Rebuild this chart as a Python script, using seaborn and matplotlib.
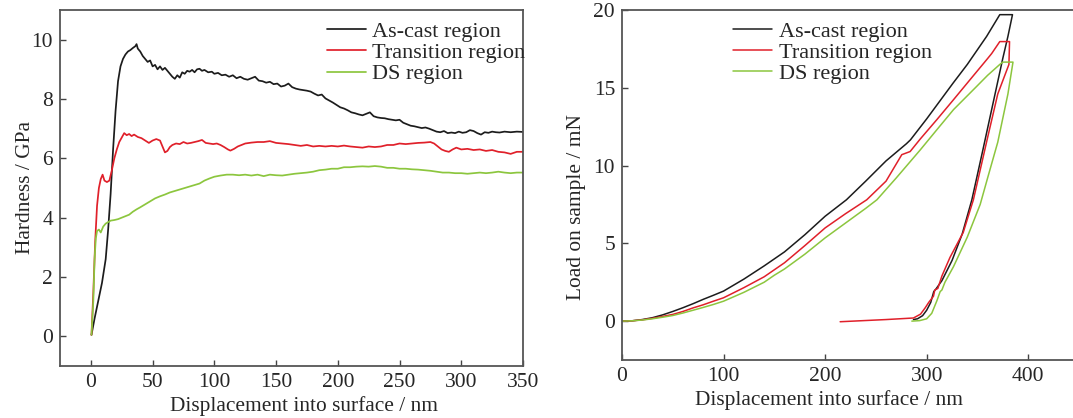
import numpy as np
import pandas as pd
import matplotlib
matplotlib.use("Agg")
import matplotlib.pyplot as plt
import seaborn as sns

# ---- hardness vs displacement (left panel) ----
ascast_hx = [0.5, 3, 6, 9, 12, 14, 16, 18, 20, 22, 24, 26, 28, 30, 32, 34, 36, 37, 38, 40,
             42, 44, 46, 48, 50, 52, 54, 56, 58, 60, 62, 64, 66, 68, 70, 72, 74, 76, 78, 80,
             82, 84, 86, 88, 90, 92, 95, 98, 100, 103, 106, 109, 112, 115, 118, 121, 124, 127,
             130, 133, 136, 139, 142, 145, 148, 151, 154, 157, 160, 163, 166, 169, 172, 175,
             178, 181, 184, 187, 190, 193, 196, 199, 202, 205, 208, 211, 214, 217, 220, 223,
             226, 229, 232, 235, 238, 241, 244, 247, 250, 253, 256, 259, 262, 265, 268, 271,
             274, 277, 280, 283, 286, 289, 292, 295, 298, 301, 304, 307, 310, 313, 316, 319,
             322, 325, 328, 331, 335, 340, 345, 350]
ascast_hy = [0.05, 0.6, 1.2, 1.8, 2.6, 3.6, 4.8, 6.3, 7.6, 8.6, 9.1, 9.35, 9.5, 9.6, 9.65,
             9.72, 9.78, 9.85, 9.7, 9.6, 9.45, 9.35, 9.25, 9.3, 9.1, 9.15, 9.0, 9.1, 8.98, 9.05,
             8.95, 8.85, 8.75, 8.68, 8.8, 8.72, 8.9, 8.85, 8.95, 8.92, 8.98, 8.9, 9.0, 9.02, 8.95,
             8.98, 8.9, 8.92, 8.85, 8.88, 8.8, 8.82, 8.75, 8.8, 8.7, 8.75, 8.68, 8.65, 8.7, 8.75,
             8.62, 8.6, 8.55, 8.58, 8.5, 8.52, 8.42, 8.45, 8.52, 8.4, 8.35, 8.32, 8.3, 8.28, 8.25,
             8.18, 8.12, 8.15, 8.02, 7.95, 7.88, 7.8, 7.72, 7.68, 7.62, 7.55, 7.52, 7.48, 7.45,
             7.5, 7.55, 7.42, 7.38, 7.36, 7.35, 7.32, 7.3, 7.28, 7.3, 7.2, 7.15, 7.1, 7.08, 7.05,
             7.02, 7.04, 7.0, 6.95, 6.9, 6.88, 6.92, 6.85, 6.87, 6.85, 6.9, 6.86, 6.88, 6.95,
             6.92, 6.85, 6.8, 6.88, 6.86, 6.9, 6.88, 6.87, 6.9, 6.88, 6.9, 6.89]

trans_hx = [0.5, 2, 3.5, 5, 6.5, 8, 9.5, 11, 13, 15, 17, 19, 21, 23, 25, 27, 29, 31, 33, 35,
            38, 41, 44, 47, 50, 53, 56, 58, 60, 62, 64, 66, 69, 72, 75, 78, 81, 84, 87, 90,
            93, 96, 99, 102, 105, 108, 111, 113, 116, 119, 122, 125, 130, 135, 140, 145, 150,
            155, 160, 165, 170, 175, 180, 185, 190, 195, 200, 205, 210, 215, 220, 225, 230,
            235, 240, 245, 250, 255, 260, 265, 270, 275, 278, 281, 284, 287, 290, 293, 296,
            300, 305, 310, 315, 320, 325, 330, 335, 340, 345, 350]
trans_hy = [0.05, 1.5, 3.2, 4.4, 5.0, 5.3, 5.45, 5.25, 5.2, 5.25, 5.6, 6.0, 6.3, 6.55, 6.7,
            6.85, 6.78, 6.82, 6.75, 6.8, 6.72, 6.68, 6.6, 6.52, 6.6, 6.65, 6.6, 6.4, 6.2, 6.25,
            6.38, 6.45, 6.5, 6.48, 6.55, 6.5, 6.52, 6.55, 6.58, 6.62, 6.52, 6.5, 6.48, 6.5,
            6.45, 6.38, 6.3, 6.26, 6.32, 6.4, 6.45, 6.5, 6.53, 6.55, 6.55, 6.58, 6.52, 6.5,
            6.48, 6.45, 6.42, 6.45, 6.4, 6.42, 6.4, 6.42, 6.4, 6.43, 6.4, 6.38, 6.36, 6.4, 6.38,
            6.4, 6.45, 6.45, 6.5, 6.48, 6.5, 6.52, 6.53, 6.55, 6.5, 6.4, 6.3, 6.25, 6.22, 6.3,
            6.36, 6.3, 6.32, 6.28, 6.3, 6.25, 6.28, 6.22, 6.2, 6.15, 6.22, 6.22]

ds_hx = [0.5, 2, 3, 4, 5, 6.5, 8, 10, 12, 14, 16, 19, 22, 25, 28, 31, 34, 37, 40, 44, 48,
         52, 56, 60, 64, 68, 72, 76, 80, 84, 88, 92, 96, 100, 105, 110, 115, 120, 125, 130,
         135, 140, 145, 150, 155, 160, 165, 170, 175, 180, 185, 190, 195, 200, 205, 210, 215,
         220, 225, 230, 235, 240, 245, 250, 255, 260, 265, 270, 275, 280, 285, 290, 295, 300,
         305, 310, 315, 320, 325, 330, 335, 340, 345, 350]
ds_hy = [0.05, 1.2, 2.6, 3.3, 3.55, 3.6, 3.5, 3.7, 3.8, 3.85, 3.9, 3.92, 3.95, 4.0, 4.05,
         4.1, 4.2, 4.28, 4.35, 4.45, 4.55, 4.65, 4.72, 4.78, 4.85, 4.9, 4.95, 5.0, 5.05, 5.1,
         5.15, 5.25, 5.32, 5.38, 5.42, 5.45, 5.45, 5.43, 5.45, 5.42, 5.45, 5.4, 5.45, 5.43,
         5.42, 5.45, 5.48, 5.5, 5.52, 5.55, 5.6, 5.62, 5.65, 5.65, 5.7, 5.7, 5.72, 5.73, 5.72,
         5.74, 5.72, 5.68, 5.68, 5.65, 5.65, 5.63, 5.62, 5.6, 5.58, 5.55, 5.52, 5.52, 5.5,
         5.5, 5.48, 5.5, 5.52, 5.5, 5.52, 5.55, 5.52, 5.5, 5.52, 5.52]

# ---- load vs displacement (right panel): loading, hold, unloading ----
ascast_lx = [0, 10, 20, 30, 40, 50, 60, 70, 80, 90, 100, 120, 140, 150, 160, 180, 200, 221,
             240, 260, 280, 284, 300, 326, 340, 359, 372, 384.5,
             380, 375, 366, 355, 344.5, 335, 325, 315, 309, 307, 304, 300, 296, 291, 287]
ascast_ly = [0, 0.02, 0.1, 0.22, 0.4, 0.62, 0.86, 1.12, 1.4, 1.66, 1.93, 2.7, 3.55, 4.0, 4.45,
             5.55, 6.74, 7.8, 9.0, 10.3, 11.4, 11.65, 13.0, 15.3, 16.5, 18.3, 19.7, 19.7,
             18.3, 16.9, 14.2, 10.9, 7.8, 5.6, 3.9, 2.6, 2.05, 1.9, 1.2, 0.7, 0.35, 0.15, 0.1]

trans_lx = [0, 10, 20, 30, 40, 50, 60, 70, 80, 90, 100, 120, 140, 150, 160, 180, 200, 220,
            241, 260, 275.5, 283.7, 293.6, 310, 326, 345, 359, 364, 372, 381.6,
            381, 370, 360, 346, 336, 323, 315, 311, 308, 306.7, 302, 298.5, 294, 287, 260,
            214.8]
trans_ly = [0, 0.02, 0.08, 0.18, 0.3, 0.43, 0.62, 0.85, 1.05, 1.28, 1.5, 2.15, 2.85, 3.3,
            3.75, 4.85, 5.99, 6.9, 7.8, 9.0, 10.7, 10.9, 11.7, 12.95, 14.2, 15.7, 16.8, 17.2,
            17.97, 17.97,
            16.5, 14.6, 11.8, 7.8, 5.7, 4.1, 2.9, 2.1, 2.0, 1.6, 1.2, 0.85, 0.45, 0.2, 0.1,
            -0.04]

ds_lx = [0, 10, 20, 30, 40, 50, 60, 70, 80, 90, 100, 120, 140, 150, 160, 180, 200, 220, 240,
         251, 270, 293.6, 310, 326.5, 349.4, 360, 372, 375, 385,
         380, 370, 360, 352.7, 340, 326.4, 318, 315, 313.3, 310, 305, 300, 293, 285.4]
ds_ly = [0, 0.02, 0.07, 0.15, 0.25, 0.36, 0.52, 0.7, 0.88, 1.07, 1.28, 1.85, 2.5, 2.95, 3.35,
         4.3, 5.35, 6.3, 7.25, 7.8, 9.2, 11.0, 12.3, 13.6, 15.1, 15.8, 16.5, 16.65, 16.65,
         14.6, 11.5, 9.2, 7.5, 5.4, 3.5, 2.5, 2.0, 1.9, 1.3, 0.5, 0.15, 0.03, 0.0]

regions = ["As-cast region", "Transition region", "DS region"]
colors = ["#1c1c1c", "#e0202a", "#8cc63e"]

hard = pd.concat([
    pd.DataFrame({"x": ascast_hx, "y": ascast_hy, "region": regions[0]}),
    pd.DataFrame({"x": trans_hx, "y": trans_hy, "region": regions[1]}),
    pd.DataFrame({"x": ds_hx, "y": ds_hy, "region": regions[2]}),
])
load = pd.concat([
    pd.DataFrame({"x": ascast_lx, "y": ascast_ly, "region": regions[0]}),
    pd.DataFrame({"x": trans_lx, "y": trans_ly, "region": regions[1]}),
    pd.DataFrame({"x": ds_lx, "y": ds_ly, "region": regions[2]}),
])

sns.set_theme(style="ticks")
plt.rcParams["font.family"] = ["Liberation Serif", "DejaVu Serif"]

fig = plt.figure(figsize=(10.73, 4.18), dpi=100)
# left panel: spine x 60..523 px, y 10..366 px
ax1 = fig.add_axes([60 / 1073, 52 / 418, 463 / 1073, 356 / 418])
# right panel: spine from x 622 px, runs past the right edge of the figure
ax2 = fig.add_axes([622 / 1073, 58 / 418, 457 / 1073, 350 / 418])

palette = dict(zip(regions, colors))

sns.lineplot(data=hard, x="x", y="y", hue="region", hue_order=regions, palette=palette,
             sort=False, estimator=None, lw=1.25, ax=ax1)
sns.lineplot(data=load, x="x", y="y", hue="region", hue_order=regions, palette=palette,
             sort=False, estimator=None, lw=1.1, ax=ax2)

lab_fs = 15.4

ax1.set_xlim(-25, 350)
ax1.set_ylim(-1, 11)
ax1.set_xticks([0, 50, 100, 150, 200, 250, 300, 350])
ax1.set_yticks([0, 2, 4, 6, 8, 10])
ax1.set_xlabel("Displacement into surface / nm", fontsize=lab_fs)
ax1.set_ylabel("Hardness / GPa", fontsize=lab_fs)
ax1.xaxis.set_label_coords(0.527, -0.085)
ax1.yaxis.set_label_coords(-0.054, 0.5)

ax2.set_xlim(0, 450)
ax2.set_ylim(-2.5, 20)
ax2.set_xticks([0, 100, 200, 300, 400])
ax2.set_yticks([0, 5, 10, 15, 20])
ax2.set_xlabel("Displacement into surface / nm", fontsize=lab_fs)
ax2.set_ylabel("Load on sample / mN", fontsize=lab_fs)
ax2.xaxis.set_label_coords(0.452, -0.087)
ax2.yaxis.set_label_coords(-0.079, 0.436)

for ax in (ax1, ax2):
    ax.tick_params(direction="in", length=4, width=1, labelsize=15.5, pad=5, color="#444444")
    for sp in ax.spines.values():
        sp.set_color("#555555")
        sp.set_linewidth(1.3)
        sp.set_visible(True)

leg_kw = dict(frameon=False, fontsize=16, handlelength=1.75, handletextpad=0.3,
              labelspacing=0.03, borderpad=0, borderaxespad=0)
ax1.legend(loc="upper right", bbox_to_anchor=(1.005, 0.968), **leg_kw)
ax2.legend(loc="upper left", bbox_to_anchor=(0.243, 0.968), **leg_kw)

fig.savefig("out.png", dpi=100)
